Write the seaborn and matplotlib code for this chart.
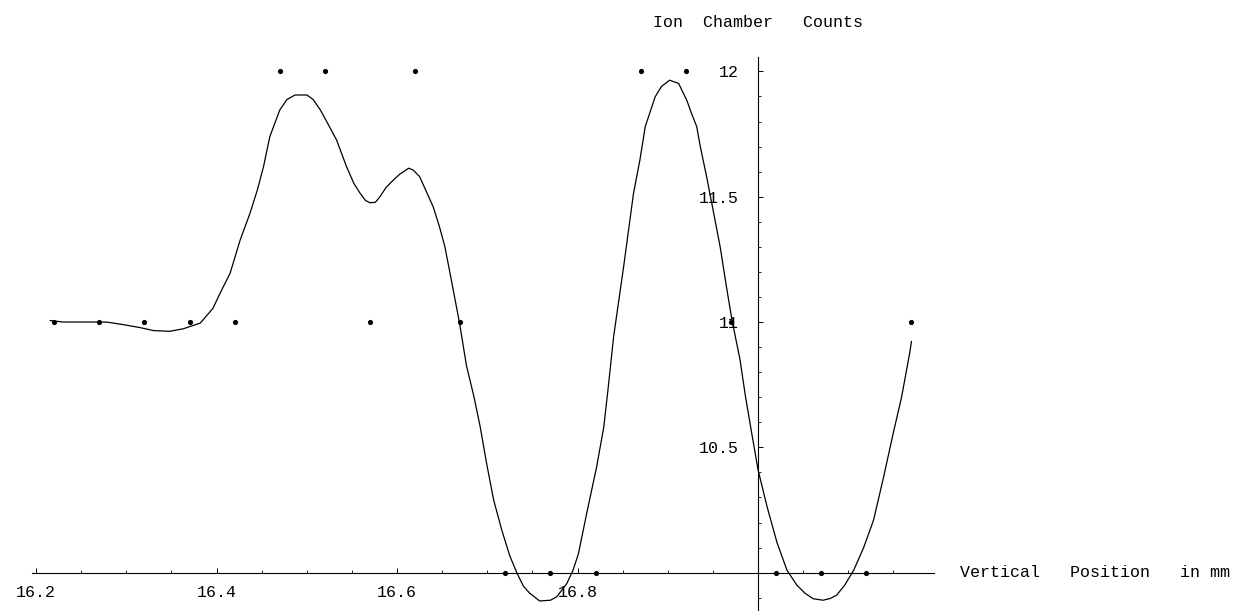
"""
Ion chamber counts vs vertical position (Mathematica-style axes crossing at origin)
"""
import numpy as np
import matplotlib
matplotlib.use('Agg')
import matplotlib.pyplot as plt
import matplotlib.ticker as mticker
import seaborn as sns

# measured points
pos_mm = [16.22, 16.27, 16.32, 16.37, 16.42, 16.47, 16.52, 16.57, 16.62, 16.67,
          16.72, 16.77, 16.82, 16.87, 16.92, 16.97, 17.02, 17.07, 17.12, 17.17]
counts = [11, 11, 11, 11, 11, 12, 12, 11, 12, 11,
          10, 10, 10, 12, 12, 11, 10, 10, 10, 11]

# fitted curve
fit_x = [16.2155, 16.230, 16.278, 16.296, 16.315, 16.330, 16.348, 16.363, 16.382, 16.396,
         16.404, 16.415, 16.426, 16.437, 16.445, 16.452, 16.459, 16.470, 16.478, 16.487,
         16.500, 16.507, 16.515, 16.522, 16.533, 16.544, 16.552, 16.559, 16.565, 16.570,
         16.576, 16.581, 16.588, 16.596, 16.603, 16.613, 16.618, 16.625, 16.632, 16.640,
         16.647, 16.653, 16.660, 16.669, 16.677, 16.685, 16.692, 16.699, 16.707, 16.716,
         16.725, 16.733, 16.740, 16.747, 16.758, 16.770, 16.777, 16.788, 16.795, 16.801,
         16.810, 16.821, 16.829, 16.834, 16.840, 16.851, 16.862, 16.869, 16.875, 16.886,
         16.893, 16.902, 16.912, 16.921, 16.926, 16.932, 16.936, 16.943, 16.950, 16.958,
         16.965, 16.971, 16.980, 16.986, 16.993, 17.000, 17.010, 17.021, 17.032, 17.043,
         17.052, 17.061, 17.072, 17.080, 17.087, 17.096, 17.106, 17.117, 17.128, 17.139,
         17.150, 17.159, 17.168, 17.170]
fit_y = [11.006, 11.000, 11.000, 10.990, 10.978, 10.966, 10.963, 10.973, 10.996, 11.055,
         11.116, 11.195, 11.326, 11.434, 11.525, 11.620, 11.740, 11.846, 11.888, 11.906,
         11.906, 11.888, 11.846, 11.800, 11.726, 11.620, 11.554, 11.514, 11.485, 11.476,
         11.478, 11.500, 11.538, 11.567, 11.590, 11.614, 11.606, 11.580, 11.524, 11.460,
         11.380, 11.300, 11.170, 11.000, 10.824, 10.705, 10.584, 10.440, 10.290, 10.170,
         10.066, 9.997, 9.946, 9.918, 9.887, 9.890, 9.904, 9.956, 10.010, 10.076,
         10.235, 10.420, 10.580, 10.740, 10.943, 11.220, 11.514, 11.645, 11.780, 11.899,
         11.940, 11.965, 11.952, 11.885, 11.835, 11.780, 11.700, 11.580, 11.450, 11.300,
         11.140, 11.010, 10.850, 10.704, 10.556, 10.410, 10.263, 10.120, 10.010, 9.950,
         9.918, 9.896, 9.890, 9.897, 9.910, 9.950, 10.010, 10.100, 10.210, 10.380,
         10.560, 10.700, 10.876, 10.923]

x_major = [16.2, 16.4, 16.6, 16.8]
x_minor = [16.25, 16.3, 16.35, 16.45, 16.5, 16.55, 16.65, 16.7, 16.75,
           16.85, 16.9, 16.95, 17.05, 17.1, 17.15]
y_major = [10.5, 11, 11.5, 12]
y_minor = [9.9, 10.1, 10.2, 10.3, 10.4, 10.6, 10.7, 10.8, 10.9,
           11.1, 11.2, 11.3, 11.4, 11.6, 11.7, 11.8, 11.9]

sns.set_theme(style='white')
plt.rcParams['font.family'] = ['Liberation Mono', 'DejaVu Sans Mono']

fig = plt.figure(figsize=(12.36, 6.11), dpi=100)
ax = fig.add_axes([0, 0, 1, 1])
ax.set_facecolor('white')

sns.lineplot(x=fit_x, y=fit_y, sort=False, estimator=None, color='black',
             linewidth=0.9, ax=ax)
sns.scatterplot(x=pos_mm, y=counts, color='black', s=14, edgecolor=None,
                linewidth=0, ax=ax, zorder=3)

ax.set_xlim(16.160, 17.5296)
ax.set_ylim(9.847, 12.285)

for side in ['top', 'right']:
    ax.spines[side].set_visible(False)
ax.spines['left'].set_position(('data', 17.0))
ax.spines['bottom'].set_position(('data', 10.0))
ax.spines['left'].set_bounds(9.84, 12.056)
ax.spines['bottom'].set_bounds(16.195, 17.195)
for side in ['left', 'bottom']:
    ax.spines[side].set_color('black')
    ax.spines[side].set_linewidth(0.8)

ax.xaxis.set_major_locator(mticker.FixedLocator(x_major))
ax.xaxis.set_minor_locator(mticker.FixedLocator(x_minor))
ax.yaxis.set_major_locator(mticker.FixedLocator(y_major))
ax.yaxis.set_minor_locator(mticker.FixedLocator(y_minor))
ax.set_xticklabels(['16.2', '16.4', '16.6', '16.8'])
ax.set_yticklabels(['10.5', '11', '11.5', '12'])

ax.tick_params(axis='x', which='major', direction='in', length=3.5, width=0.7,
               colors='black', labelsize=12, pad=9, bottom=True)
ax.tick_params(axis='x', which='minor', direction='in', length=2, width=0.6,
               colors='black', bottom=True)
ax.tick_params(axis='y', which='major', direction='in', length=3.5, width=0.7,
               colors='black', labelsize=12, pad=14, left=True)
ax.tick_params(axis='y', which='minor', direction='in', length=2.5, width=0.6,
               colors='black', left=True)
ax.set_xlabel('')
ax.set_ylabel('')
ax.grid(False)

ax.text(16.8837, 12.197, 'Ion  Chamber   Counts', ha='left', va='center',
        fontsize=12, color='black')
ax.text(17.2238, 10.0, 'Vertical   Position   in mm', ha='left', va='center',
        fontsize=12, color='black', clip_on=False)

plt.savefig('out.png', dpi=100)
plt.close()
